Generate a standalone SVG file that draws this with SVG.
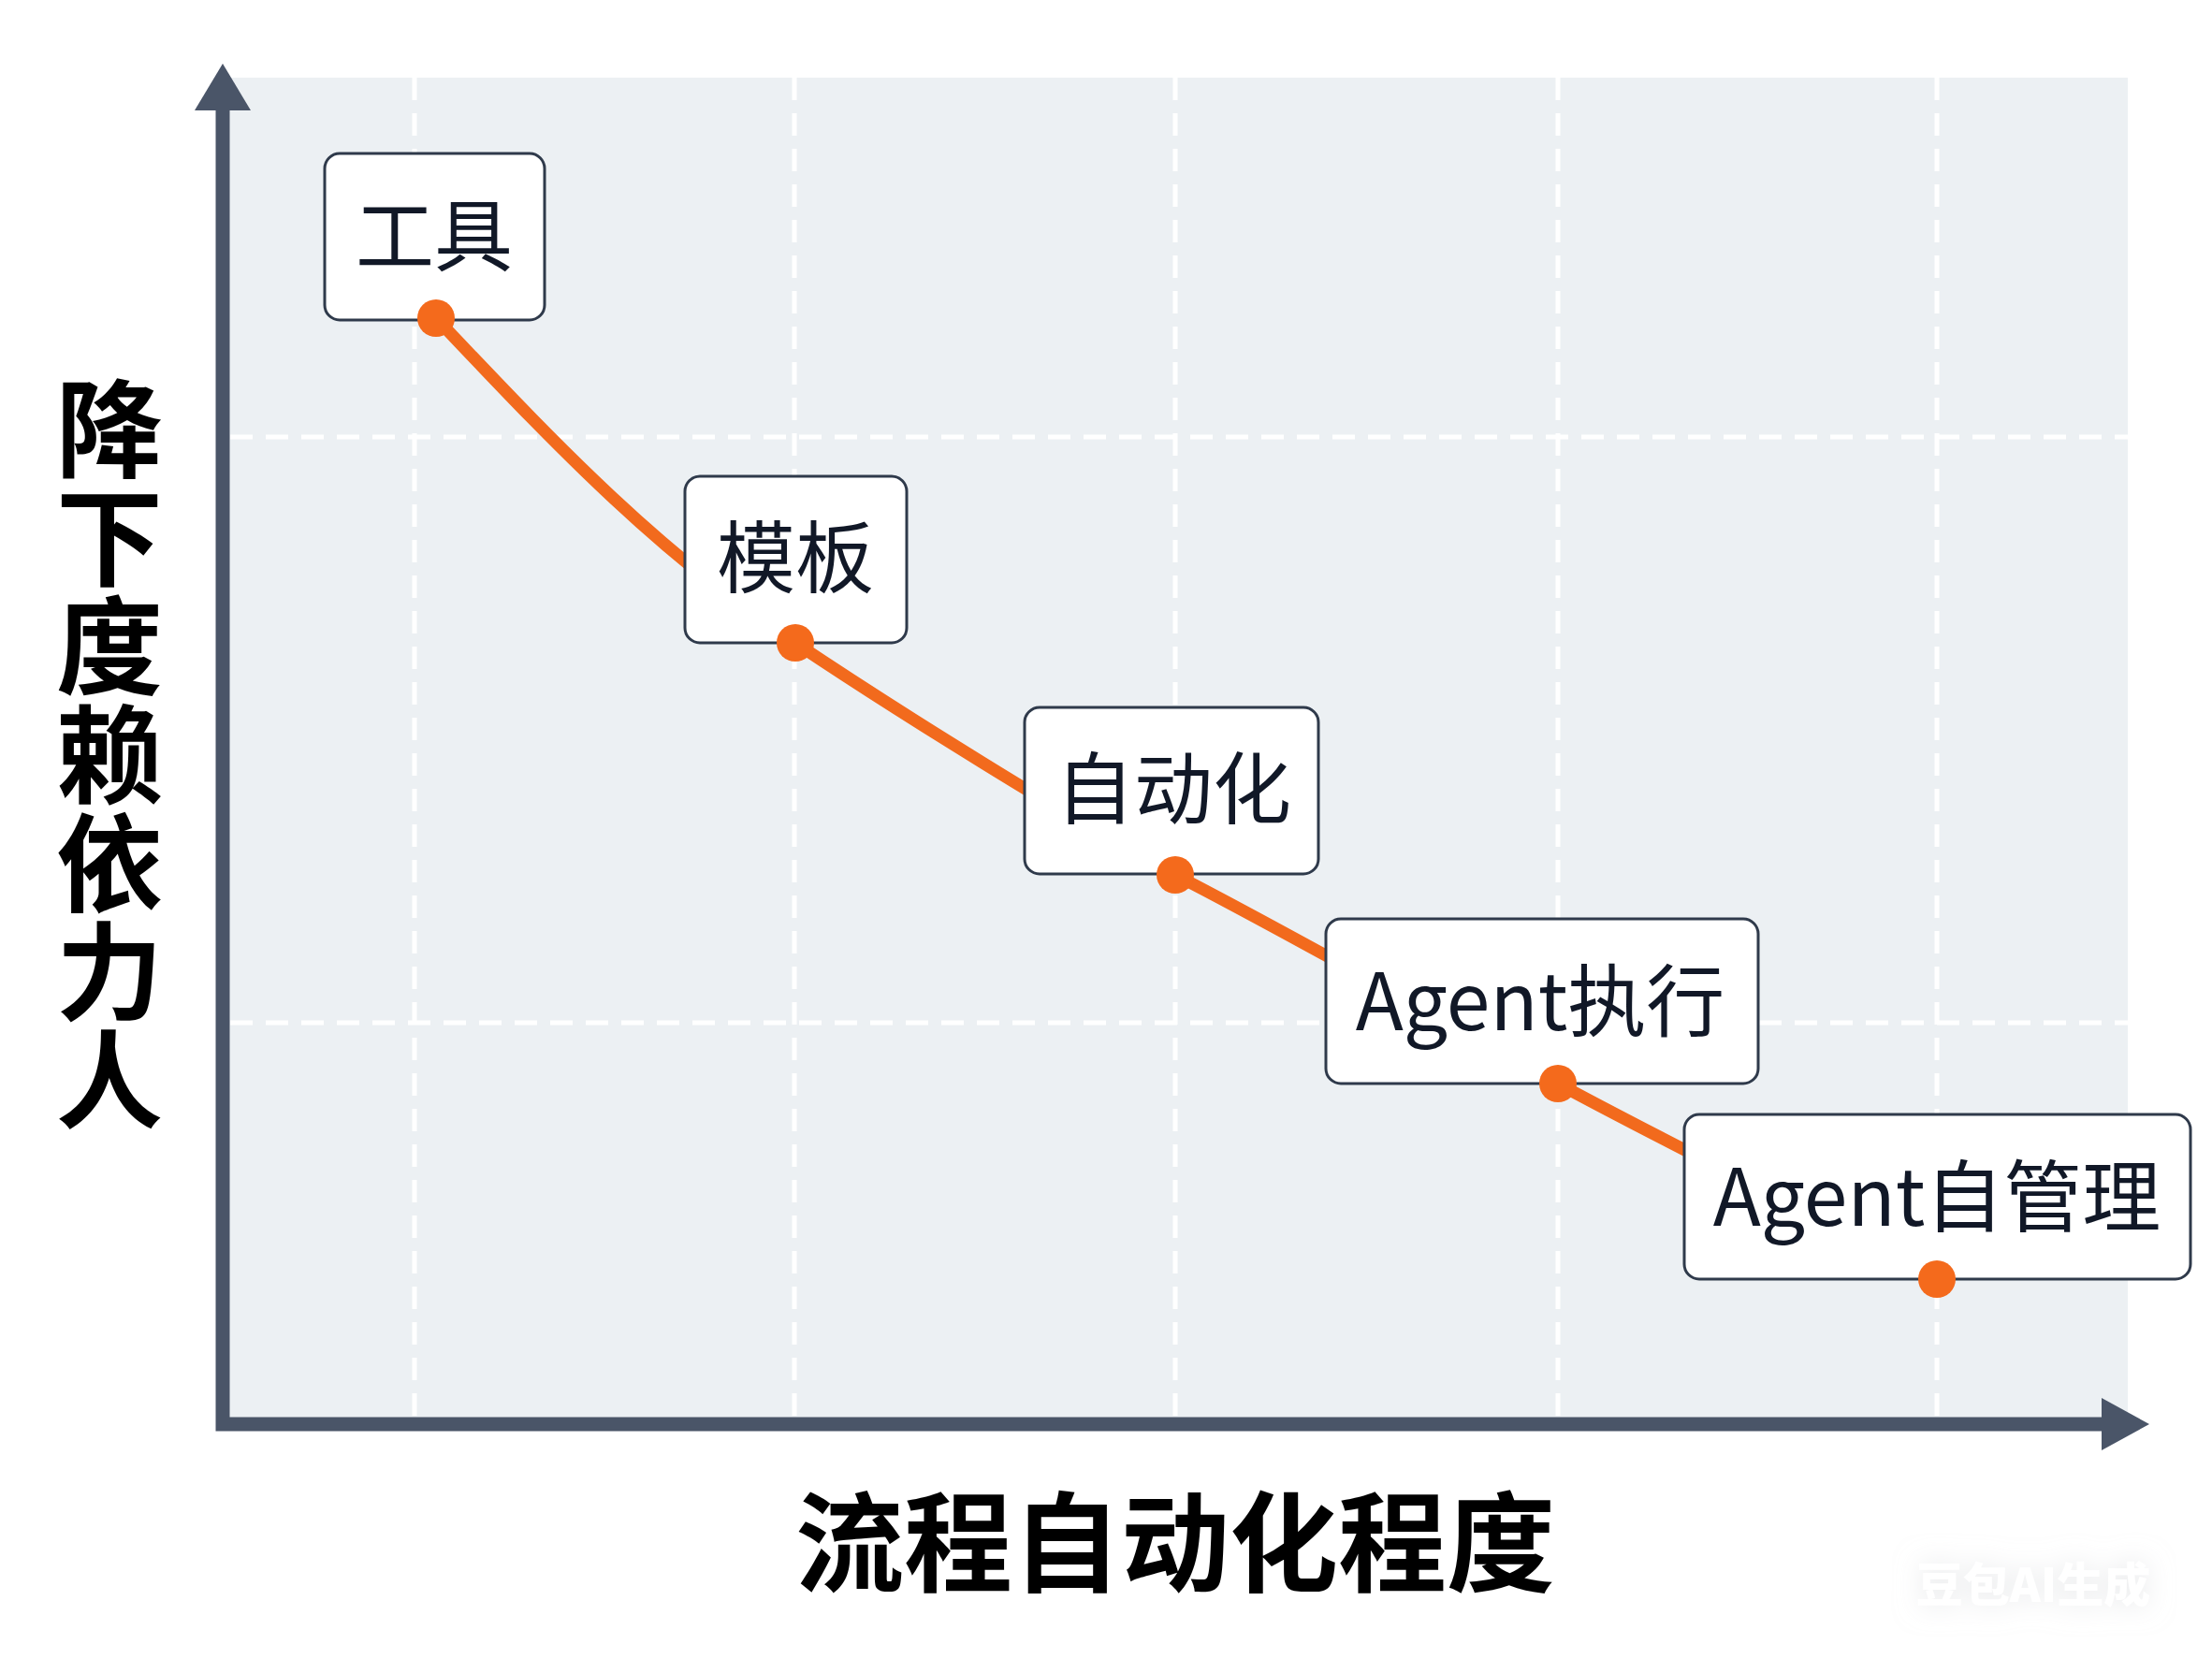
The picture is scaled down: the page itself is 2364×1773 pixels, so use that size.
<svg xmlns="http://www.w3.org/2000/svg" width="2364" height="1773" viewBox="0 0 2364 1773">
<style>
.grid{stroke:#ffffff;stroke-width:5;stroke-dasharray:24 14;fill:none}
.box{fill:#ffffff;stroke:#2f3a4b;stroke-width:3}
.lbl{font-family:"Noto Sans CJK SC","Noto Sans",sans-serif;font-size:84px;fill:#111827;text-anchor:middle;dominant-baseline:central}
.dot{fill:#f46a1c}
.axt{font-family:"Noto Sans CJK SC",sans-serif;font-weight:700;fill:#000000}
</style>
<defs>
<filter id="wm" x="-20%" y="-50%" width="140%" height="200%">
<feGaussianBlur in="SourceAlpha" stdDeviation="14" result="b"/>
<feFlood flood-color="#d8dadd" flood-opacity="0.6"/>
<feComposite in2="b" operator="in" result="s"/>
<feMerge><feMergeNode in="s"/><feMergeNode in="SourceGraphic"/></feMerge>
</filter>
</defs>
<rect x="0" y="0" width="2364" height="1773" fill="#ffffff"/>
<g id="plot-area">
<rect x="238" y="83" width="2036" height="1439" fill="#ecf0f3"/>
</g>
<g id="grid">
<line class="grid" x1="443" y1="83" x2="443" y2="1515"/>
<line class="grid" x1="849" y1="83" x2="849" y2="1515"/>
<line class="grid" x1="1256" y1="83" x2="1256" y2="1515"/>
<line class="grid" x1="1665" y1="83" x2="1665" y2="1515"/>
<line class="grid" x1="2070" y1="83" x2="2070" y2="1515"/>
<line class="grid" x1="246" y1="467" x2="2274" y2="467"/>
<line class="grid" x1="246" y1="1093" x2="2274" y2="1093"/>
</g>
<g id="axes">
<path d="M238,112 L238,1522 L2250,1522" fill="none" stroke="#4a5568" stroke-width="15" stroke-linejoin="miter"/>
<polygon points="238,68 208,118 268,118" fill="#4a5568"/>
<polygon points="2297,1522 2246,1494 2246,1550" fill="#4a5568"/>
</g>
<g id="connectors">
<path d="M466,340 C580,460 700,590 850,687 C950,754 1150,880 1256,935 C1360,988 1560,1100 1665,1158 C1760,1210 1980,1320 2070,1367" fill="none" stroke="#f26a1d" stroke-width="13" stroke-linecap="round"/>
</g>
<g id="node-tool">
<rect class="box" x="347" y="164" width="235" height="178" rx="16"/>
<text class="lbl" x="464" y="246">工具</text>
<circle class="dot" cx="466" cy="340" r="20"/>
</g>
<g id="node-template">
<rect class="box" x="732" y="509" width="237" height="178" rx="16"/>
<text class="lbl" x="850" y="590">模板</text>
<circle class="dot" cx="850" cy="687" r="20"/>
</g>
<g id="node-automation">
<rect class="box" x="1095" y="756" width="314" height="178" rx="16"/>
<text class="lbl" x="1254" y="837">自动化</text>
<circle class="dot" cx="1256" cy="935" r="20"/>
</g>
<g id="node-agent-exec">
<rect class="box" x="1417" y="982" width="462" height="176" rx="16"/>
<text class="lbl" x="1646" y="1064">Agent执行</text>
<circle class="dot" cx="1665" cy="1158" r="20"/>
</g>
<g id="node-agent-self">
<rect class="box" x="1800" y="1191" width="541" height="176" rx="16"/>
<text class="lbl" x="2070" y="1273">Agent自管理</text>
<circle class="dot" cx="2070" cy="1367" r="20"/>
</g>
<g id="y-label">
<text class="axt" x="117" y="401" font-size="114" writing-mode="vertical-rl" letter-spacing="2">降下度赖依力人</text>
</g>
<g id="x-label">
<text class="axt" x="1256" y="1641" font-size="116" text-anchor="middle" dominant-baseline="central">流程自动化程度</text>
</g>
<g id="watermark">
<text x="2173" y="1690" font-family="Noto Sans CJK SC, sans-serif" font-weight="900" font-size="50" fill="#ffffff" text-anchor="middle" dominant-baseline="central" filter="url(#wm)">豆包AI生成</text>
</g>
</svg>
